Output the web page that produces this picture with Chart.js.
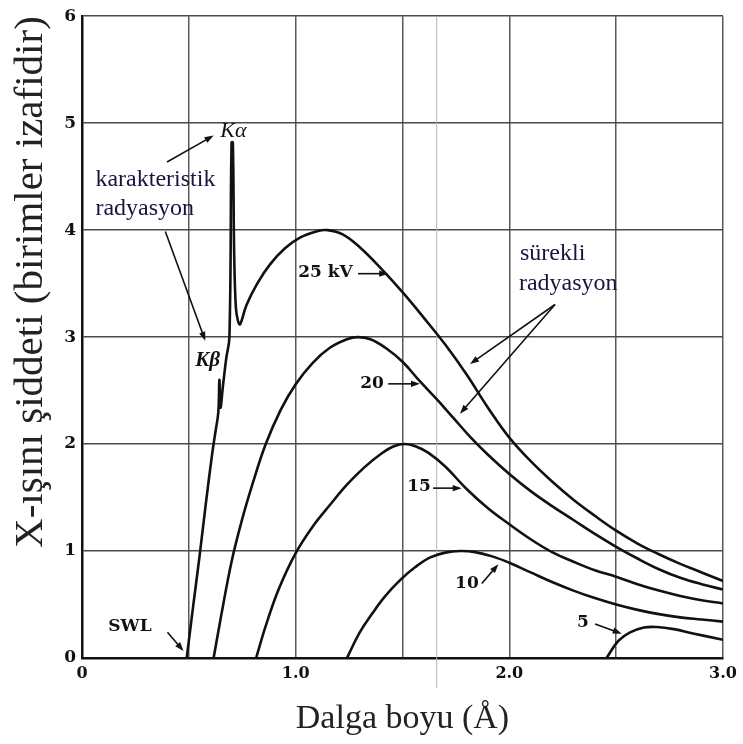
<!DOCTYPE html>
<html><head><meta charset="utf-8">
<script src="https://cdn.jsdelivr.net/npm/chart.js@4.4.1/dist/chart.umd.min.js"></script>
<style>html,body{margin:0;padding:0;background:#fff;}canvas{display:block;}</style>
</head><body>
<canvas id="c" width="743" height="744" style="width:743px;height:744px"></canvas>
<script>
// ---- data (wavelength in Å, intensity in relative units) ----
const wl25 = [0.49,0.52,0.55,0.58,0.61,0.625,0.638,0.643,0.648,0.66,0.675,0.69,0.70,0.706,0.712,0.72,0.73,0.74,0.77,0.82,0.88,0.95,1.02,1.1,1.15,1.22,1.3,1.4,1.5,1.6,1.7,1.8,1.9,2.0,2.1,2.2,2.3,2.4,2.5,2.6,2.7,2.8,2.9,3.0];
const in25 = [0,0.48,0.95,1.45,1.92,2.12,2.3,2.6,2.34,2.55,2.8,3.0,4.82,4.82,3.8,3.28,3.15,3.12,3.3,3.5,3.68,3.83,3.93,3.99,4.0,3.96,3.84,3.64,3.42,3.18,2.93,2.65,2.34,2.06,1.84,1.65,1.48,1.33,1.19,1.07,0.97,0.88,0.8,0.72];
const wl20 = [0.616,0.65,0.70,0.75,0.80,0.86,0.93,1.0,1.08,1.16,1.24,1.29,1.35,1.42,1.5,1.58,1.66,1.74,1.82,1.9,2.0,2.1,2.2,2.3,2.4,2.5,2.6,2.7,2.8,2.9,3.0];
const in20 = [0,0.38,0.9,1.3,1.64,2.0,2.32,2.56,2.76,2.9,2.98,3.0,2.98,2.9,2.77,2.59,2.42,2.24,2.06,1.9,1.72,1.56,1.42,1.29,1.16,1.04,0.93,0.83,0.75,0.69,0.64];
const wl15 = [0.815,0.86,0.92,1.0,1.08,1.16,1.24,1.32,1.4,1.46,1.51,1.56,1.62,1.7,1.8,1.9,2.0,2.1,2.2,2.3,2.4,2.5,2.6,2.7,2.8,2.9,3.0];
const in15 = [0,0.3,0.64,0.98,1.23,1.43,1.62,1.78,1.91,1.98,2.0,1.98,1.92,1.79,1.58,1.4,1.25,1.11,0.99,0.9,0.82,0.76,0.69,0.63,0.58,0.54,0.51];
const wl10 = [1.24,1.3,1.36,1.42,1.49,1.56,1.63,1.7,1.77,1.84,1.92,2.0,2.1,2.2,2.3,2.4,2.5,2.6,2.7,2.8,2.9,3.0];
const in10 = [0,0.24,0.42,0.58,0.73,0.85,0.94,0.985,1.0,0.99,0.95,0.89,0.8,0.71,0.63,0.56,0.5,0.45,0.41,0.38,0.36,0.34];
const wl5 = [2.455,2.51,2.565,2.63,2.69,2.77,2.86,3.0];
const in5 = [0,0.16,0.24,0.285,0.29,0.27,0.23,0.17];
const seriesNames = ['25 kV','20','15','10','5'];
const xTickValues = [0,0.5,1,1.5,2,2.5,3];
const xTickLabels = ['0','','1.0','','2.0','','3.0'];
const yTickLabels = ['0','1','2','3','4','5','6'];
const xTitle = 'Dalga boyu (Å)';
const yTitle = 'X-ışını şiddeti (birimler izafidir)';

const pts = (xs, ys) => xs.map((x, i) => ({x, y: ys[i]}));
const seriesData = [pts(wl25,in25), pts(wl20,in20), pts(wl15,in15), pts(wl10,in10), pts(wl5,in5)];

// ---- annotation layout (in data coordinates) ----
const texts = [
  {t:'karakteristik', x:0.063, y:4.408, font:'24px "Liberation Serif"', color:'#15153f', base:'alphabetic'},
  {t:'radyasyon', x:0.063, y:4.138, font:'24px "Liberation Serif"', color:'#15153f', base:'alphabetic'},
  {t:'sürekli', x:2.05, y:3.72, font:'24px "Liberation Serif"', color:'#15153f', base:'alphabetic'},
  {t:'radyasyon', x:2.045, y:3.442, font:'24px "Liberation Serif"', color:'#15153f', base:'alphabetic'},
  {t:seriesNames[0], x:1.012, y:3.60, font:'bold 17px "DejaVu Serif"', color:'#111', base:'middle'},
  {t:seriesNames[1], x:1.302, y:2.57, font:'bold 17px "DejaVu Serif"', color:'#111', base:'middle'},
  {t:seriesNames[2], x:1.522, y:1.60, font:'bold 17px "DejaVu Serif"', color:'#111', base:'middle'},
  {t:seriesNames[3], x:1.746, y:0.70, font:'bold 17px "DejaVu Serif"', color:'#111', base:'middle'},
  {t:seriesNames[4], x:2.317, y:0.33, font:'bold 17px "DejaVu Serif"', color:'#111', base:'middle'},
  {t:'SWL', x:0.123, y:0.29, font:'bold 17px "DejaVu Serif"', color:'#111', base:'middle'},
  {t:'Kα', x:0.647, y:4.927, font:'italic 22px "Liberation Serif"', color:'#111', base:'middle'},
  {t:'Kβ', x:0.530, y:2.783, font:'bold italic 21px "Liberation Serif"', color:'#111', base:'middle'}
];
const arrows = [
  [1.292,3.593,1.433,3.593],[1.433,2.563,1.582,2.563],[1.643,1.588,1.777,1.588],
  [1.871,0.697,1.949,0.877],[2.401,0.319,2.526,0.227],[0.400,0.241,0.475,0.065],
  [0.398,4.637,0.616,4.884],[0.390,3.987,0.577,2.966],
  [2.214,3.305,1.816,2.748],[2.214,3.305,1.769,2.284]
];

const annot = {
  id: 'annot',
  beforeDatasetsDraw(chart) {
    const {ctx, chartArea, scales:{x}} = chart;
    ctx.save();
    ctx.strokeStyle = '#b5b5b5'; ctx.lineWidth = 1;
    const px = x.getPixelForValue(1.66);
    ctx.beginPath(); ctx.moveTo(px, chartArea.top); ctx.lineTo(px, chartArea.bottom + 30); ctx.stroke();
    ctx.restore();
  },
  afterDatasetsDraw(chart) {
    const {ctx, scales:{x, y}} = chart;
    ctx.save();
    texts.forEach(o => {
      ctx.font = o.font; ctx.fillStyle = o.color; ctx.textAlign = 'left'; ctx.textBaseline = o.base;
      ctx.fillText(o.t, x.getPixelForValue(o.x), y.getPixelForValue(o.y));
    });
    ctx.strokeStyle = '#111'; ctx.fillStyle = '#111'; ctx.lineWidth = 1.6;
    arrows.forEach(a => {
      const x1 = x.getPixelForValue(a[0]), y1 = y.getPixelForValue(a[1]);
      const x2 = x.getPixelForValue(a[2]), y2 = y.getPixelForValue(a[3]);
      const ang = Math.atan2(y2 - y1, x2 - x1), L = 9, W = 3.2;
      ctx.beginPath(); ctx.moveTo(x1, y1);
      ctx.lineTo(x2 - L * Math.cos(ang) * 0.8, y2 - L * Math.sin(ang) * 0.8); ctx.stroke();
      ctx.beginPath(); ctx.moveTo(x2, y2);
      ctx.lineTo(x2 - L * Math.cos(ang) - W * Math.sin(ang), y2 - L * Math.sin(ang) + W * Math.cos(ang));
      ctx.lineTo(x2 - L * Math.cos(ang) + W * Math.sin(ang), y2 - L * Math.sin(ang) - W * Math.cos(ang));
      ctx.closePath(); ctx.fill();
    });
    ctx.restore();
  }
};

const xTickFont = {family:'"DejaVu Serif"', size:16, weight:'bold'};
const yTickFont = {family:'"DejaVu Serif"', size:17, weight:'bold'};
new Chart(document.getElementById('c'), {
  type: 'scatter',
  data: {
    datasets: seriesData.map((d, i) => ({
      label: seriesNames[i], data: d, showLine: true, borderColor: '#111', borderWidth: 2.6,
      pointRadius: 0, tension: 0.4, fill: false
    }))
  },
  options: {
    responsive: false, animation: false,
    layout: {padding: {left: 0, right: 20, top: 12, bottom: 0}},
    plugins: {legend: {display: false}, tooltip: {enabled: false}},
    scales: {
      x: {
        type: 'linear', min: 0, max: 3,
        afterBuildTicks: s => { s.ticks = xTickValues.map(v => ({value: v})); },
        ticks: {callback: (v, i) => xTickLabels[i], font: xTickFont, color: '#111', padding: 6, maxRotation: 0, autoSkip: false},
        grid: {color: '#5a5a5a', lineWidth: 1.5, drawTicks: false},
        border: {color: '#111', width: 2.5},
        title: {display: true, text: xTitle, font: {family: '"Liberation Serif"', size: 34}, color: '#222', padding: {top: 0, bottom: 5}},
        afterFit: s => { s.height = 86; }
      },
      y: {
        type: 'linear', min: 0, max: 6,
        ticks: {stepSize: 1, callback: (v, i) => yTickLabels[i], font: yTickFont, color: '#111', padding: 6},
        grid: {color: '#4a4a4a', lineWidth: 1.5, drawTicks: false},
        border: {color: '#111', width: 2.5},
        title: {display: true, text: yTitle, align: 'end', font: {family: '"Liberation Serif"', size: 41}, color: '#222', padding: {top: 7, bottom: 0}},
        afterFit: s => { s.width = 82; }
      }
    }
  },
  plugins: [annot]
});
</script>
</body></html>
